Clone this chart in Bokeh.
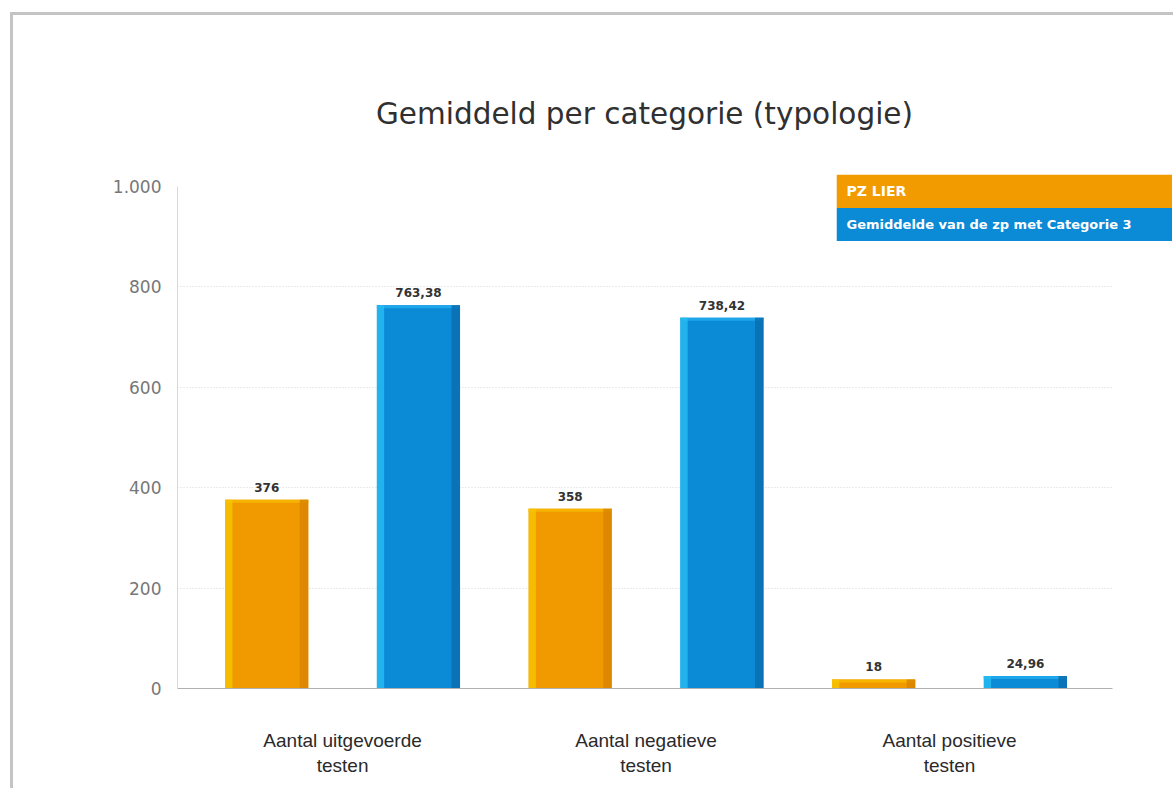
from bokeh.plotting import figure
from bokeh.models import FixedTicker, ColumnDataSource, Range1d
from bokeh.core.properties import value
from bokeh.embed import file_html
from bokeh.resources import INLINE

# ---- data ----
categories = ["Aantal uitgevoerde\ntesten", "Aantal negatieve\ntesten", "Aantal positieve\ntesten"]
pz_lier = [376, 358, 18]
gemiddelde = [763.38, 738.42, 24.96]
series_names = ["PZ LIER", "Gemiddelde van de zp met Categorie 3"]
series_colors = ["#f29b00", "#0b8ad6"]
y_ticks = [0, 200, 400, 600, 800, 1000]
y_tick_labels = ["0", "200", "400", "600", "800", "1.000"]
title_text = "Gemiddeld per categorie (typologie)"


def fmt(v):
    if float(v).is_integer():
        return str(int(v))
    return f"{v:.2f}".replace(".", ",")


def overlay(width, height, left, top):
    f = figure(width=width, height=height, output_backend="svg", toolbar_location=None,
               x_range=Range1d(0, 1), y_range=Range1d(0, 2),
               min_border_left=0, min_border_right=0, min_border_top=0, min_border_bottom=0)
    f.axis.visible = False
    f.grid.visible = False
    f.outline_line_color = None
    f.background_fill_color = None
    f.border_fill_color = None
    f.styles = {"position": "absolute", "left": f"{left}px", "top": f"{top}px"}
    return f


idx = list(range(len(categories)))
OFF = 0.25
BW = 0.274
CAP = 6  # height of the light top edge, in axis units

p = figure(width=1160, height=773, output_backend="svg", toolbar_location=None,
           x_range=Range1d(-0.544, 2.537), y_range=Range1d(0, 1000),
           min_border_left=164, min_border_top=171, min_border_bottom=100,
           min_border_right=61, frame_width=935, frame_height=502)
p.styles = {"border-top": "3px solid #c4c4c4", "border-left": "3px solid #c4c4c4",
            "margin-left": "10px", "margin-top": "12px"}
p.outline_line_color = None
p.background_fill_color = "white"

# bars
shades = [
    ("#f09a00", "#f8c400", "#d88300", "#f6b300"),
    ("#0b8ad6", "#25bdf2", "#0a6cae", "#1ea6ea"),
]
for s, vals in enumerate([pz_lier, gemiddelde]):
    off = -OFF if s == 0 else OFF
    main, light, dark, cap = shades[s]
    xs = [i + off for i in idx]
    src = ColumnDataSource(dict(x=xs, top=vals, label=[fmt(v) for v in vals]))
    p.vbar(x="x", top="top", width=BW, bottom=0, source=src, fill_color=main, line_color=None)
    p.vbar(x=xs, top=vals, bottom=[max(v - CAP, 0) for v in vals], width=BW,
           fill_color=cap, line_color=None)
    p.vbar(x=[x - BW / 2 + 0.012 for x in xs], top=vals, width=0.024, bottom=0,
           fill_color=light, line_color=None, fill_alpha=0.8)
    p.vbar(x=[x + BW / 2 - 0.014 for x in xs], top=vals, width=0.028, bottom=0,
           fill_color=dark, line_color=None, fill_alpha=0.8)
    p.text(x="x", y="top", text="label", source=src, text_align="center",
           text_baseline="bottom", y_offset=-8, text_font=value("DejaVu Sans"),
           text_font_style="bold", text_font_size="12px", text_color="#333333")

# axes
p.yaxis.ticker = FixedTicker(ticks=y_ticks)
p.yaxis.major_label_overrides = {t: l for t, l in zip(y_ticks, y_tick_labels)}
p.yaxis.major_tick_line_color = None
p.yaxis.minor_tick_line_color = None
p.yaxis.axis_line_color = "#d8d8d8"
p.yaxis.major_label_text_font = "DejaVu Sans"
p.yaxis.major_label_text_font_size = "17px"
p.yaxis.major_label_text_color = "#777777"
p.yaxis.major_label_standoff = 10

p.xaxis.ticker = FixedTicker(ticks=idx)
p.xaxis.major_label_overrides = {i: c for i, c in zip(idx, categories)}
p.xaxis.major_tick_line_color = None
p.xaxis.minor_tick_line_color = None
p.xaxis.axis_line_color = "#b0b0b0"
p.xaxis.major_label_text_font = "Liberation Sans"
p.xaxis.major_label_text_font_size = "19px"
p.xaxis.major_label_text_color = "#2a2a2a"
p.xaxis.major_label_standoff = 35

p.xgrid.grid_line_color = None
p.ygrid.grid_line_color = "#d6d6d6"
p.ygrid.grid_line_dash = "1 2"

# title: overlay figure
tfig = overlay(900, 46, 194, 90)
tfig.text(x=[0.5], y=[1.0], text=[title_text], text_align="center", text_baseline="middle",
          text_font=value("DejaVu Sans"), text_font_size="29.5px", text_color="#303030")

# legend: overlay figure
leg = overlay(336, 67, 836, 174)
rows = list(range(len(series_names)))
lsrc = ColumnDataSource(dict(bottom=[1 - r for r in rows], top=[2 - r for r in rows],
                             color=series_colors, name=series_names,
                             y=[1.5 - r for r in rows], size=["14px", "13px"]))
leg.quad(left=0, right=1, bottom="bottom", top="top", fill_color="color",
         line_color=None, source=lsrc)
leg.text(x=0, y="y", text="name", x_offset=10, text_baseline="middle",
         text_font=value("DejaVu Sans"), text_font_style="bold",
         text_font_size="size", text_color="white", source=lsrc)

open("out.html", "w").write(file_html([p, tfig, leg], INLINE))
